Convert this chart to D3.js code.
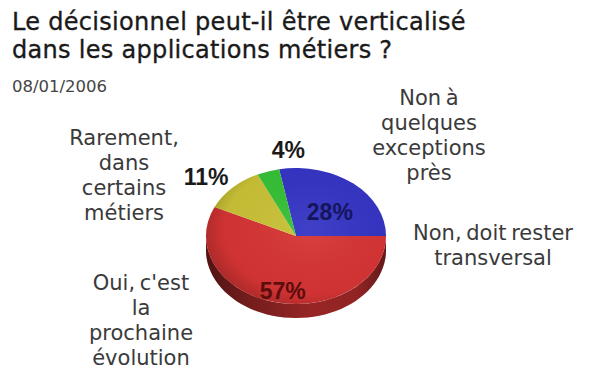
<!DOCTYPE html>
<html>
<head>
<meta charset="utf-8">
<script src="https://cdn.jsdelivr.net/npm/d3@7"></script>
<style>
  body { margin: 0; background: #fff; }
  svg { display: block; }
</style>
</head>
<body>
<div id="chart"></div>
<script>
// data
const categories = ["Non à quelques exceptions près", "Oui, c'est la prochaine évolution", "Rarement, dans certains métiers", "Non, doit rester transversal"];
const values = [28, 57, 11, 4];
const colors = ["#3434c4", "#d63434", "#c9c136", "#36c036"];
const labelLines = [
    ["Non à", "quelques", "exceptions", "près"],
    ["Oui, c'est", "la", "prochaine", "évolution"],
    ["Rarement,", "dans", "certains", "métiers"],
    ["Non, doit rester", "transversal"]
];
const titleLines = ["Le décisionnel peut-il être verticalisé", "dans les applications métiers ?"];
const dateLabel = "08/01/2006";

// layout
const W = 600, H = 372;
const cx = 296, cy = 236, rx = 90, ry = 68, depth = 14;
const labelPos = [[429, 105], [141, 290], [124, 145], [493, 240]];
const pctRadius = [0.52, 0.78, 1.35, 1.35];
const pctNudge = [[4, 3], [2, 3], [-4, 6], [30, 1]];
const pctColor = ["#15155c", "#5c0d0d", "#1a1a1a", "#1a1a1a"];

const svg = d3.select("#chart").append("svg")
    .attr("width", W)
    .attr("height", H);

const defs = svg.append("defs");

const sideGrad = defs.append("linearGradient")
    .attr("id", "sideShade")
    .attr("gradientUnits", "userSpaceOnUse")
    .attr("x1", cx - rx).attr("x2", cx + rx)
    .attr("y1", 0).attr("y2", 0);
[[0, 0.55], [0.25, 0.35], [0.6, 0.15], [0.85, 0.2], [1, 0.45]].forEach(s => {
    sideGrad.append("stop").attr("offset", s[0]).attr("stop-color", "#000").attr("stop-opacity", s[1]);
});

const topGrad = defs.append("radialGradient")
    .attr("id", "topShade")
    .attr("cx", 0.58).attr("cy", 0.45).attr("r", 0.6);
topGrad.append("stop").attr("offset", 0).attr("stop-color", "#fff").attr("stop-opacity", 0.06);
topGrad.append("stop").attr("offset", 0.8).attr("stop-color", "#000").attr("stop-opacity", 0.03);
topGrad.append("stop").attr("offset", 1).attr("stop-color", "#000").attr("stop-opacity", 0.2);

// title + date
svg.append("g").selectAll("text")
    .data(titleLines)
    .join("text")
    .attr("x", 12)
    .attr("y", (d, i) => 30 + i * 28)
    .attr("font-family", "DejaVu Sans, sans-serif")
    .attr("font-size", 24)
    .attr("letter-spacing", 0.3)
    .attr("fill", "#1a1a1a")
    .attr("stroke", "#1a1a1a")
    .attr("stroke-width", 0.35)
    .text(d => d);

svg.append("text")
    .attr("x", 12)
    .attr("y", 92)
    .attr("font-family", "DejaVu Sans, sans-serif")
    .attr("font-size", 16.5)
    .attr("fill", "#444")
    .text(dateLabel);

// pie
const total = d3.sum(values);
const start = Math.PI / 2 - 2 * Math.PI * values[0] / total;
const pie = d3.pie().sort(null).startAngle(start).endAngle(start + 2 * Math.PI);
const arcs = pie(values);

const pt = (a, r) => [cx + r * rx * Math.sin(a), cy - r * ry * Math.cos(a)];

function sidePath(s, e) {
    const n = 48;
    const topPts = d3.range(n + 1).map(i => pt(s + (e - s) * i / n, 1));
    const botPts = topPts.slice().reverse().map(p => [p[0], p[1] + depth]);
    return d3.line()(topPts.concat(botPts)) + "Z";
}

// side walls (front half only)
const sideG = svg.append("g");
arcs.forEach((a, i) => {
    [-1, 0, 1].forEach(m => {
        const s = Math.max(a.startAngle, Math.PI / 2 + 2 * Math.PI * m);
        const e = Math.min(a.endAngle, 3 * Math.PI / 2 + 2 * Math.PI * m);
        if (e > s) {
            sideG.append("path")
                .attr("d", sidePath(s, e))
                .attr("fill", d3.color(colors[i]).darker(0.5));
        }
    });
});
sideG.append("path")
    .attr("d", sidePath(Math.PI / 2, 3 * Math.PI / 2))
    .attr("fill", "url(#sideShade)");

// top face
const arc = d3.arc().innerRadius(0).outerRadius(rx);
const topG = svg.append("g")
    .attr("transform", `translate(${cx},${cy}) scale(1,${ry / rx})`);
topG.selectAll("path.slice")
    .data(arcs)
    .join("path")
    .attr("class", "slice")
    .attr("d", arc)
    .attr("fill", (d, i) => colors[i]);
topG.append("circle")
    .attr("r", rx)
    .attr("fill", "url(#topShade)");

// percentage labels
svg.append("g").selectAll("text")
    .data(arcs)
    .join("text")
    .attr("x", (d, i) => pt((d.startAngle + d.endAngle) / 2, pctRadius[i])[0] + pctNudge[i][0])
    .attr("y", (d, i) => pt((d.startAngle + d.endAngle) / 2, pctRadius[i])[1] + pctNudge[i][1])
    .attr("dy", "0.35em")
    .attr("text-anchor", "middle")
    .attr("font-family", "Liberation Sans, Arial, sans-serif")
    .attr("font-weight", "bold")
    .attr("font-size", 23)
    .attr("fill", (d, i) => pctColor[i])
    .text(d => d.data + "%");

// category labels
const labG = svg.append("g")
    .attr("font-family", "DejaVu Sans, sans-serif")
    .attr("font-size", 21)
    .attr("word-spacing", -2)
    .attr("fill", "#3a3a3a")
    .attr("text-anchor", "middle");
categories.forEach((c, i) => {
    labG.append("text")
        .attr("aria-label", c)
        .selectAll("tspan")
        .data(labelLines[i])
        .join("tspan")
        .attr("x", labelPos[i][0])
        .attr("y", (d, j) => labelPos[i][1] + j * 25)
        .text(d => d);
});
</script>
</body>
</html>
